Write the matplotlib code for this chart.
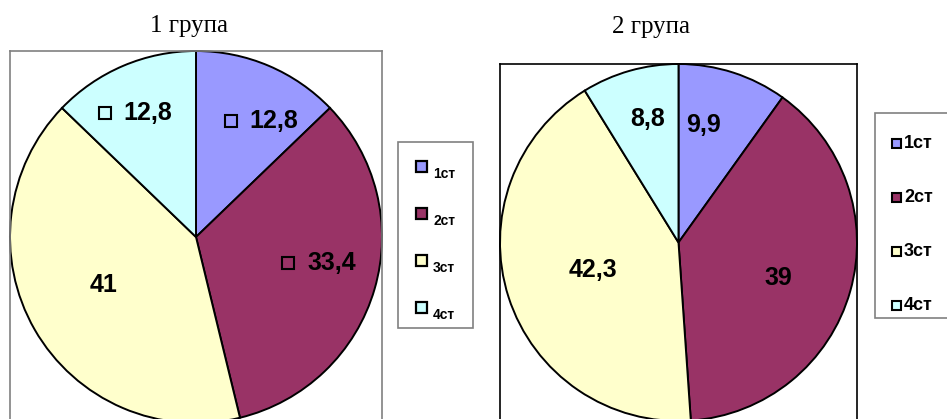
import numpy as np
import matplotlib
matplotlib.use('Agg')
import matplotlib.pyplot as plt
from matplotlib.patches import Rectangle

categories = ['1ст', '2ст', '3ст', '4ст']
group1 = [12.8, 33.4, 41, 12.8]
group2 = [9.9, 39, 42.3, 8.8]
titles = ['1 група', '2 група']
colors = ['#9999FF', '#993366', '#FFFFCC', '#CCFFFF']

W, H = 947, 419
fig = plt.figure(figsize=(W / 100, H / 100), dpi=100)
renderer = fig.canvas.get_renderer()

SANS = ['Liberation Sans', 'DejaVu Sans']
SERIF = ['Liberation Serif', 'DejaVu Serif']


def px_axes(x0, y0, w, h, **kw):
    # axes placed by pixel box, origin at top-left
    return fig.add_axes([x0 / W, (H - y0 - h) / H, w / W, h / H], **kw)


def fmt(v):
    return f'{v:g}'.replace('.', ',')


def draw_pie(ax, values, edge, label_r, nudge, keyed):
    wedges, _ = ax.pie(values, colors=colors, startangle=90, counterclock=False,
                       wedgeprops=dict(edgecolor='black', linewidth=1.4),
                       frame=True)
    ax.set_xlim(-1, 1)
    ax.set_ylim(-1, 1)
    ax.set_xticks([])
    ax.set_yticks([])
    for s in ax.spines.values():
        s.set_color(edge)
        s.set_linewidth(1.2)
    for w in wedges:
        w.set_clip_on(False)
    labels = []
    for w, v, r, d, k in zip(wedges, values, label_r, nudge, keyed):
        theta = np.deg2rad((w.theta1 + w.theta2) / 2 - d)
        x, y = r * np.cos(theta), r * np.sin(theta)
        # keyed labels carry a small legend square on the left
        t = ax.annotate(fmt(v), (x, y), xytext=(9.5 if k else 0, -1),
                        textcoords='offset points', ha='center', va='center',
                        fontsize=18, fontweight='bold', family=SANS)
        labels.append((t, k))
    return labels


ax1 = px_axes(10, 51, 372, 372)
lab1 = draw_pie(ax1, group1, '#808080',
                [0.72, 0.67, 0.56, 0.75], [6, -5, 3, -3], [True, True, False, True])

ax2 = px_axes(500, 64, 357, 357)
lab2 = draw_pie(ax2, group2, 'black',
                [0.68, 0.59, 0.50, 0.72], [-6, 3, 1, 2], [False, False, False, False])

# overlay in pixel coordinates for titles, legends and label keys
ov = fig.add_axes([0, 0, 1, 1], zorder=5)
ov.set_xlim(0, W)
ov.set_ylim(H, 0)
ov.axis('off')

for t, k in lab1 + lab2:
    if not k:
        continue
    bb = t.get_window_extent(renderer)
    cx = bb.x0 - 19
    cy = H - (bb.y0 + bb.y1) / 2
    ov.add_patch(Rectangle((cx - 6, cy - 6), 12, 12, facecolor='none',
                           edgecolor='black', lw=1.5))

ov.text(189, 32, titles[0], ha='center', va='baseline', fontsize=18, family=SERIF)
ov.text(651, 33, titles[1], ha='center', va='baseline', fontsize=18, family=SERIF)

# legend of the first chart: labels sit a bit below their keys
ov.add_patch(Rectangle((398, 142), 75, 186, facecolor='white', edgecolor='#808080', lw=1.2))
for i, (name, c) in enumerate(zip(categories, colors)):
    y = 166 + i * 47
    ov.add_patch(Rectangle((416, y - 5.5), 11, 11, facecolor=c, edgecolor='black', lw=1.6))
    ov.text(433, y + 12, name, ha='left', va='baseline', fontsize=10,
            fontweight='bold', family=SANS)

# legend of the second chart
ov.add_patch(Rectangle((875, 113), 90, 205, facecolor='white', edgecolor='#808080',
                       lw=1.2, clip_on=False))
for i, (name, c) in enumerate(zip(categories, colors)):
    y = 143 + i * 54
    ov.add_patch(Rectangle((892, y - 4.5), 9, 9, facecolor=c, edgecolor='black', lw=1.5))
    ov.text(904, y, name, ha='left', va='center', fontsize=13,
            fontweight='bold', family=SANS)

fig.savefig('out.png', dpi=100)
